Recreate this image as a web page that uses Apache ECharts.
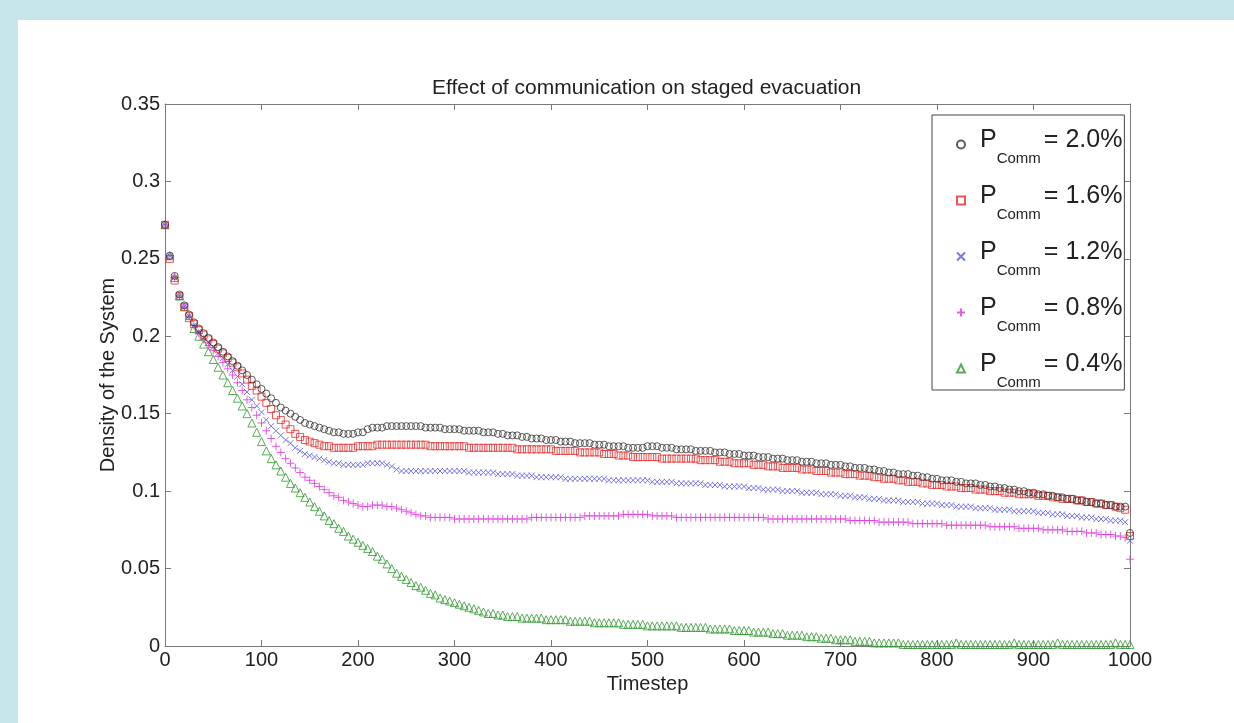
<!DOCTYPE html>
<html>
<head>
<meta charset="utf-8">
<script src="https://cdn.jsdelivr.net/npm/echarts@6/dist/echarts.min.js"></script>
<style>
html,body{margin:0;padding:0;background:#c6e5e8;width:1234px;height:723px;overflow:hidden;}
#c{position:absolute;left:18px;top:20px;width:1216px;height:703px;background:#fff;}
</style>
</head>
<body>
<div id="c"></div>
<script>
const timesteps = [
0,5,10,15,20,25,30,35,40,45, 50,55,60,65,70,75,80,85,90,95,
100,105,110,115,120,125,130,135,140,145, 150,155,160,165,170,175,180,185,190,195,
200,205,210,215,220,225,230,235,240,245, 250,255,260,265,270,275,280,285,290,295,
300,305,310,315,320,325,330,335,340,345, 350,355,360,365,370,375,380,385,390,395,
400,405,410,415,420,425,430,435,440,445, 450,455,460,465,470,475,480,485,490,495,
500,505,510,515,520,525,530,535,540,545, 550,555,560,565,570,575,580,585,590,595,
600,605,610,615,620,625,630,635,640,645, 650,655,660,665,670,675,680,685,690,695,
700,705,710,715,720,725,730,735,740,745, 750,755,760,765,770,775,780,785,790,795,
800,805,810,815,820,825,830,835,840,845, 850,855,860,865,870,875,880,885,890,895,
900,905,910,915,920,925,930,935,940,945, 950,955,960,965,970,975,980,985,990,995,
1000];

const comm20 = [
.272,.252,.239,.227,.220,.214,.209,.205,.202,.199, .196,.193,.190,.187,.184,.181,.178,.175,.172,.169,
.166,.163,.160,.157,.154,.152,.150,.148,.146,.144, .143,.142,.141,.140,.139,.138,.138,.137,.137,.137,
.138,.138,.140,.141,.141,.141,.142,.142,.142,.142, .142,.142,.142,.142,.141,.141,.141,.141,.140,.140,
.140,.140,.139,.139,.139,.139,.138,.138,.138,.137, .137,.136,.136,.136,.135,.135,.134,.134,.134,.133,
.133,.133,.132,.132,.132,.131,.131,.131,.131,.130, .130,.130,.129,.129,.129,.129,.128,.128,.128,.128,
.129,.129,.129,.128,.128,.128,.127,.127,.127,.127, .126,.126,.126,.126,.125,.125,.125,.124,.124,.124,
.123,.123,.123,.122,.122,.122,.121,.121,.121,.120, .120,.120,.119,.119,.119,.118,.118,.118,.117,.117,
.117,.116,.116,.115,.115,.115,.114,.114,.113,.113, .112,.112,.111,.111,.111,.110,.110,.109,.109,.108,
.108,.107,.107,.107,.106,.106,.105,.105,.105,.104, .104,.103,.103,.102,.102,.101,.101,.100,.100,.099,
.099,.098,.098,.097,.097,.096,.096,.095,.095,.094, .094,.093,.093,.092,.092,.091,.091,.090,.090,.090,
.073];

const comm16 = [
.272,.250,.236,.226,.219,.213,.208,.204,.201,.198, .195,.192,.189,.186,.183,.180,.176,.172,.168,.165,
.161,.157,.153,.149,.146,.143,.140,.137,.135,.133, .132,.131,.130,.129,.129,.128,.128,.128,.128,.128,
.129,.129,.129,.129,.130,.130,.130,.130,.130,.130, .130,.130,.130,.130,.130,.129,.129,.129,.129,.129,
.129,.129,.129,.128,.128,.128,.128,.128,.128,.128, .128,.128,.128,.127,.127,.127,.127,.127,.127,.127,
.127,.126,.126,.126,.126,.126,.125,.125,.125,.125, .125,.124,.124,.124,.123,.123,.123,.122,.122,.122,
.122,.122,.122,.121,.121,.121,.121,.121,.121,.121, .121,.120,.120,.120,.120,.119,.119,.119,.118,.118,
.118,.118,.117,.117,.117,.116,.116,.116,.115,.115, .115,.115,.114,.114,.114,.113,.113,.113,.112,.112,
.112,.111,.111,.111,.110,.110,.110,.109,.109,.108, .108,.108,.107,.107,.106,.106,.106,.105,.105,.104,
.104,.104,.103,.103,.103,.102,.102,.102,.101,.101, .101,.100,.100,.100,.099,.099,.099,.098,.098,.098,
.098,.097,.097,.097,.096,.096,.095,.095,.095,.094, .094,.093,.093,.092,.092,.091,.091,.090,.089,.088,
.071];

const comm12 = [
.272,.252,.238,.226,.219,.213,.207,.203,.199,.196, .193,.189,.186,.182,.178,.174,.169,.164,.159,.155,
.151,.146,.142,.139,.136,.133,.131,.128,.126,.124, .123,.122,.121,.120,.119,.118,.118,.117,.117,.117,
.117,.117,.118,.118,.118,.118,.117,.116,.114,.113, .113,.113,.113,.113,.113,.113,.113,.113,.113,.113,
.113,.113,.113,.112,.112,.112,.112,.112,.112,.111, .111,.111,.111,.110,.110,.110,.110,.109,.109,.109,
.109,.109,.109,.108,.108,.108,.108,.108,.108,.108, .108,.108,.107,.107,.107,.107,.107,.107,.107,.107,
.107,.106,.106,.106,.106,.106,.105,.105,.105,.105, .105,.105,.104,.104,.104,.104,.103,.103,.103,.103,
.103,.102,.102,.102,.101,.101,.101,.101,.100,.100, .100,.100,.099,.099,.099,.099,.098,.098,.098,.098,
.097,.097,.097,.096,.096,.096,.095,.095,.095,.094, .094,.094,.094,.093,.093,.093,.093,.092,.092,.092,
.092,.091,.091,.091,.090,.090,.090,.090,.089,.089, .089,.089,.088,.088,.088,.088,.087,.087,.087,.087,
.087,.086,.086,.086,.085,.085,.085,.084,.084,.084, .083,.083,.083,.082,.082,.082,.081,.081,.081,.080,
.068];

const comm08 = [
.272,.252,.238,.226,.219,.213,.207,.202,.198,.194, .191,.187,.183,.179,.175,.170,.165,.159,.154,.149,
.144,.139,.134,.129,.125,.121,.118,.115,.112,.109, .107,.105,.103,.101,.099,.097,.096,.094,.093,.092,
.091,.090,.090,.091,.091,.091,.090,.090,.089,.088, .087,.086,.085,.084,.084,.083,.083,.083,.083,.083,
.082,.082,.082,.082,.082,.082,.082,.082,.082,.082, .082,.082,.082,.082,.082,.082,.083,.083,.083,.083,
.083,.083,.083,.083,.083,.083,.083,.084,.084,.084, .084,.084,.084,.084,.084,.085,.085,.085,.085,.085,
.085,.084,.084,.084,.084,.084,.083,.083,.083,.083, .083,.083,.083,.083,.083,.083,.083,.083,.083,.083,
.083,.083,.083,.083,.083,.082,.082,.082,.082,.082, .082,.082,.082,.082,.082,.082,.082,.082,.082,.082,
.082,.082,.081,.081,.081,.081,.081,.081,.080,.080, .080,.080,.080,.080,.080,.079,.079,.079,.079,.079,
.079,.079,.078,.078,.078,.078,.078,.078,.078,.078, .078,.077,.077,.077,.077,.077,.077,.076,.076,.076,
.076,.076,.075,.075,.075,.075,.075,.074,.074,.074, .074,.073,.073,.073,.072,.072,.072,.071,.071,.070,
.056];

const comm04 = [
.272,.252,.238,.226,.219,.212,.205,.200,.195,.190, .185,.180,.175,.170,.165,.160,.155,.150,.144,.138,
.132,.126,.121,.117,.113,.109,.105,.102,.099,.096, .093,.090,.087,.084,.081,.079,.076,.074,.071,.069,
.067,.065,.063,.061,.058,.056,.053,.050,.047,.045, .043,.041,.039,.038,.036,.034,.033,.031,.030,.029,
.028,.027,.026,.025,.024,.023,.022,.021,.021,.020, .020,.019,.019,.019,.018,.018,.018,.018,.018,.017,
.017,.017,.017,.017,.016,.016,.016,.016,.016,.015, .015,.015,.015,.015,.015,.014,.014,.014,.014,.014,
.013,.013,.013,.013,.013,.013,.013,.012,.012,.012, .012,.012,.012,.011,.011,.011,.011,.011,.010,.010,
.010,.010,.009,.009,.009,.009,.008,.008,.008,.007, .007,.007,.007,.006,.006,.006,.005,.005,.005,.004,
.004,.004,.004,.003,.003,.003,.003,.002,.002,.002, .002,.002,.002,.001,.001,.001,.001,.001,.001,.001,
.001,.001,.001,.001,.002,.001,.001,.001,.001,.001, .001,.001,.001,.001,.001,.001,.002,.001,.001,.001,
.001,.001,.001,.001,.001,.002,.001,.001,.001,.001, .001,.001,.001,.001,.001,.001,.001,.002,.001,.001,
.001];

const xTicks = {min: 0, max: 1000, interval: 100};
const yTicks = {min: 0, max: 0.35, interval: 0.05};
const legendLabels = ['2.0%', '1.6%', '1.2%', '0.8%', '0.4%'];

const FONT = "'Liberation Sans', Arial, sans-serif";
const AX = '#7a7a7a';
const TXT = '#222';

function pairs(vals){ return vals.map((v,i)=>[timesteps[i], v]); }

const defs = [
  {name:'2.0%', data: comm20, color:'#333333', symbol:'circle', size:7},
  {name:'1.6%', data: comm16, color:'#e82a2a', symbol:'rect', size:7},
  {name:'1.2%', data: comm12, color:'#5555ee', symbol:'path://M0,0L10,10M10,0L0,10', size:6},
  {name:'0.8%', data: comm08, color:'#dd33dd', symbol:'path://M5,0L5,10M0,5L10,5', size:8},
  {name:'0.4%', data: comm04, color:'#2e9a2e', symbol:'triangle', size:8}
];

const series = defs.slice().reverse().map(d => ({
  type: 'scatter',
  name: d.name,
  data: pairs(d.data),
  symbol: d.symbol,
  symbolSize: d.size,
  itemStyle: {color: 'rgba(255,255,255,0)', borderColor: d.color, borderWidth: 1},
  emphasis: {disabled: true},
  silent: true,
  animation: false
}));

const axisCommon = {
  type: 'value',
  axisLine: {show: true, onZero: false, lineStyle: {color: AX, width: 1}},
  axisTick: {show: true, inside: true, length: 6, lineStyle: {color: AX}},
  splitLine: {show: false}
};

const chart = echarts.init(document.getElementById('c'));
chart.setOption({
  backgroundColor: '#ffffff',
  animation: false,
  title: {
    text: 'Effect of communication on staged evacuation',
    left: 409, top: 53,
    textStyle: {fontFamily: FONT, fontSize: 21, fontWeight: 'normal', color: TXT}
  },
  grid: {left: 147, right: 104, top: 84, bottom: 77},
  xAxis: [
    Object.assign({}, axisCommon, xTicks, {
      position: 'bottom',
      name: 'Timestep', nameLocation: 'middle', nameGap: 25,
      nameTextStyle: {fontFamily: FONT, fontSize: 20, color: TXT},
      axisLabel: {fontFamily: FONT, fontSize: 20, color: TXT, margin: 4, formatter: v => String(v)}
    }),
    Object.assign({}, axisCommon, xTicks, {position: 'top', axisLabel: {show: false}})
  ],
  yAxis: [
    Object.assign({}, axisCommon, yTicks, {
      position: 'left',
      name: 'Density of the System', nameLocation: 'middle', nameGap: 47,
      nameMoveOverlap: false,
      nameTextStyle: {fontFamily: FONT, fontSize: 20, color: TXT},
      axisLabel: {fontFamily: FONT, fontSize: 20, color: TXT, margin: 5}
    }),
    Object.assign({}, axisCommon, yTicks, {position: 'right', axisLabel: {show: false}})
  ],
  legend: {
    orient: 'vertical',
    left: 914, top: 95,
    padding: [8, 2, 0, 24],
    itemGap: 13,
    itemWidth: 8, itemHeight: 8,
    borderColor: '#444', borderWidth: 1,
    backgroundColor: '#fff',
    selectedMode: false,
    data: legendLabels,
    formatter: n => '{a|P}{b|Comm}{c|= ' + n + '}',
    textStyle: {
      color: '#222',
      rich: {
        a: {fontFamily: FONT, fontSize: 25, lineHeight: 34, verticalAlign: 'top', padding: [0, 0, 0, 10], color: '#222'},
        b: {fontFamily: FONT, fontSize: 15, lineHeight: 16, padding: [28, 3, 0, 0], color: '#222'},
        c: {fontFamily: FONT, fontSize: 25, lineHeight: 34, verticalAlign: 'top', color: '#222'}
      }
    }
  },
  series: series
});
</script>
</body>
</html>
